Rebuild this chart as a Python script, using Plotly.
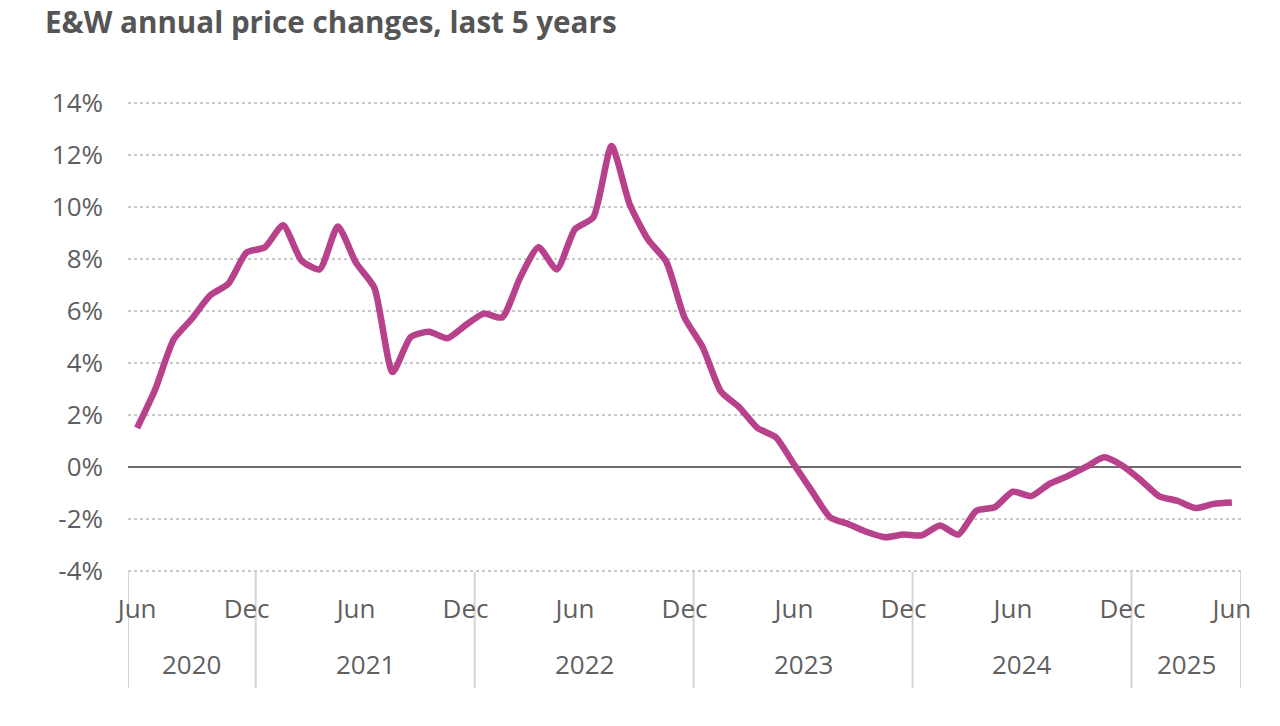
import plotly.graph_objects as go

# Monthly data, Jun 2020 .. Jun 2025
months = ["Jun", "Jul", "Aug", "Sep", "Oct", "Nov", "Dec",
          "Jan", "Feb", "Mar", "Apr", "May"]
start_year = 2020
n_points = 61
values = [
    1.5, 3.0, 4.9, 5.7, 6.6, 7.05, 8.25,          # Jun-Dec 2020
    8.45, 9.3, 7.95, 7.6, 9.25, 7.85, 6.9, 3.65, 5.0, 5.2, 4.95, 5.45,  # 2021
    5.9, 5.75, 7.3, 8.45, 7.6, 9.15, 9.6, 12.35, 10.1, 8.75, 7.9, 5.75,  # 2022
    4.6, 2.9, 2.3, 1.5, 1.15, 0.1, -0.95, -1.95, -2.2, -2.5, -2.7, -2.6,  # 2023
    -2.63, -2.25, -2.6, -1.68, -1.55, -0.95, -1.12, -0.65, -0.35, 0.0, 0.37, 0.05,  # 2024
    -0.5, -1.12, -1.3, -1.58, -1.42, -1.37,  # Jan-Jun 2025
]
years = ["2020", "2021", "2022", "2023", "2024", "2025"]
y_ticks = [-4, -2, 0, 2, 4, 6, 8, 10, 12, 14]
title = "E&W annual price changes, last 5 years"

x_idx = list(range(n_points))
labels = [months[i % 12] for i in x_idx]
tick_vals = [i for i in x_idx if labels[i] in ("Jun", "Dec")]
tick_text = [labels[i] for i in tick_vals]

# year boundaries (between Dec and Jan)
year_of = [start_year + (i + 5) // 12 for i in x_idx]
bounds = [-0.5] + [i - 0.5 for i in x_idx[1:] if year_of[i] != year_of[i - 1]] + [n_points - 0.5]

FONT = "Open Sans"
GREY = "#5f5f5f"
W, H = 1280, 726

fig = go.Figure()
fig.add_trace(go.Scatter(
    x=x_idx, y=values, mode="lines",
    line=dict(color="#B7418A", width=6.5, shape="spline", smoothing=0.6),
    hoverinfo="skip", showlegend=False,
))

shapes = []
for b in bounds:
    shapes.append(dict(type="line", xref="x", yref="paper", x0=b, x1=b,
                       y0=0, y1=-0.247, line=dict(color="#d4d4d4", width=2),
                       layer="below"))
annotations = []
for k, yr in enumerate(years):
    mid = (bounds[k] + bounds[k + 1]) / 2
    annotations.append(dict(x=mid, y=0, xref="x", yref="paper", text=yr,
                            showarrow=False, yshift=-92, yanchor="middle",
                            font=dict(family=FONT, size=26, color=GREY)))

fig.update_layout(
    width=W, height=H,
    margin=dict(l=128, r=39, t=102, b=154),
    plot_bgcolor="white", paper_bgcolor="white",
    title=dict(text=title, x=45 / W, xanchor="left", y=1 - 23 / H, yanchor="middle",
               font=dict(family=FONT, size=29.6, color="#555555", weight=700)),
    shapes=shapes, annotations=annotations,
    xaxis=dict(range=[-0.5, n_points - 0.5], tickmode="array", tickvals=tick_vals,
               ticktext=tick_text, showgrid=False, zeroline=False, showline=False,
               ticks="", ticklabelstandoff=19,
               tickfont=dict(family=FONT, size=26, color=GREY)),
    yaxis=dict(range=[-4.04, 14.04], tickmode="array", tickvals=y_ticks,
               ticktext=[f"{v}%" for v in y_ticks],
               showgrid=True, gridcolor="#c9c9c9", griddash="dot", gridwidth=2,
               zeroline=True, zerolinecolor="#6a6a6a", zerolinewidth=2,
               showline=False, ticks="", ticklabelstandoff=24,
               tickfont=dict(family=FONT, size=26, color=GREY)),
)

fig.write_html("out.html", config={"displayModeBar": False},
               post_script="document.body.style.margin='0px';")
